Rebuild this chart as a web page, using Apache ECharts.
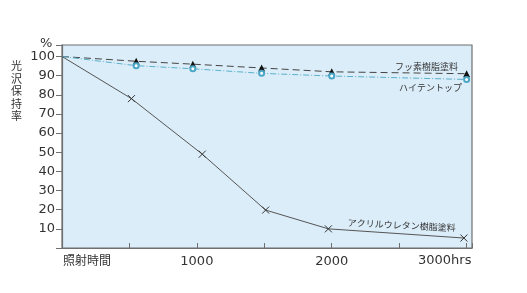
<!DOCTYPE html>
<html><head><meta charset="utf-8">
<script src="https://cdn.jsdelivr.net/npm/echarts@6/dist/echarts.min.js"></script>
<style>html,body{margin:0;padding:0;background:#fff}#c{width:527px;height:293px}</style>
</head><body><div id="c"></div>
<script>
const fluoroHours = [0, 550, 970, 1480, 2000, 3000];
const fluoroValues = [100, 97.5, 96, 94, 92, 91];
const hitechHours = [0, 550, 970, 1480, 2000, 3000];
const hitechValues = [100, 95.2, 93.6, 91.2, 89.8, 88];
const acrylHours = [0, 515, 1040, 1510, 1975, 2980];
const acrylValues = [100, 78, 49, 19.8, 10, 5.2];
const yTicks = [10, 20, 30, 40, 50, 60, 70, 80, 90, 100];
const xTickLabels = {1000: '1000', 2000: '2000'};
const names = ['フッ素樹脂塗料', 'ハイテントップ', 'アクリルウレタン樹脂塗料'];

function pts(h, v) {
  return h.map((x, i) => i === 0 ? {value: [x, v[i]], symbol: 'none'} : [x, v[i]]);
}
const font = '"Noto Sans CJK JP", "Noto Sans", sans-serif';
const numFont = '"DejaVu Sans", sans-serif';
const chart = echarts.init(document.getElementById('c'));
chart.setOption({
  animation: false,
  grid: {left: 62, top: 45, right: 55, bottom: 45, show: true,
    backgroundColor: '#dbedf9', borderColor: '#6f6f6f', borderWidth: 1.2},
  xAxis: {type: 'value', min: 0, max: 3040, interval: 500,
    axisLine: {show: true, lineStyle: {color: '#6f6f6f', width: 1.2}},
    axisTick: {show: true, inside: true, length: 5, lineStyle: {color: '#6f6f6f'}},
    splitLine: {show: false},
    axisLabel: {color: '#333', fontSize: 13, fontFamily: numFont, margin: 7,
      formatter: v => xTickLabels[v] || ''}},
  yAxis: {type: 'value', min: 0, max: 106, interval: 10,
    axisLine: {show: true, lineStyle: {color: '#6f6f6f', width: 1.2}},
    axisTick: {show: true, length: 6, lineStyle: {color: '#6f6f6f'}},
    splitLine: {show: false},
    axisLabel: {color: '#333', fontSize: 13, fontFamily: numFont, margin: 7,
      formatter: v => yTicks.includes(v) ? String(v) : ''}},
  series: [
    {name: names[0], type: 'line', data: pts(fluoroHours, fluoroValues),
      symbol: 'triangle', symbolSize: 7,
      itemStyle: {color: '#111'},
      lineStyle: {color: '#444', width: 1, type: [7, 4]}},
    {name: names[1], type: 'line', data: pts(hitechHours, hitechValues),
      symbol: 'emptyCircle', symbolSize: 5,
      itemStyle: {color: '#4aa6c6', borderColor: '#4aa6c6', borderWidth: 1},
      lineStyle: {color: '#5ab0cc', width: 1, type: [6, 2, 1, 2]}},
    {name: names[2], type: 'line', data: pts(acrylHours, acrylValues),
      symbol: 'path://M0,0L10,10M10,0L0,10', symbolSize: 7,
      itemStyle: {color: 'none', borderColor: '#333', borderWidth: 1},
      lineStyle: {color: '#555', width: 1}}
  ],
  graphic: [
    {type: 'text', left: 40, top: 37, style: {text: '%', fontSize: 13, fill: '#333', fontFamily: numFont}},
    {type: 'text', left: 11, top: 60, style: {text: '光\n沢\n保\n持\n率', fontSize: 11, lineHeight: 12.5, fill: '#333', fontFamily: font}},
    {type: 'text', left: 63, top: 254, style: {text: '照射時間', fontSize: 12, fill: '#333', fontFamily: font}},
    {type: 'text', left: 418, top: 254, style: {text: '3000hrs', fontSize: 13, fill: '#333', fontFamily: numFont}},
    {type: 'text', left: 395, top: 62, style: {text: names[0], fontSize: 9, fill: '#333', fontFamily: font}},
    {type: 'text', left: 399, top: 83, style: {text: names[1], fontSize: 9, fill: '#333', fontFamily: font}},
    {type: 'text', x: 348, y: 218, rotation: -0.05, style: {text: names[2], fontSize: 9, fill: '#333', fontFamily: font}}
  ]
});
</script></body></html>
